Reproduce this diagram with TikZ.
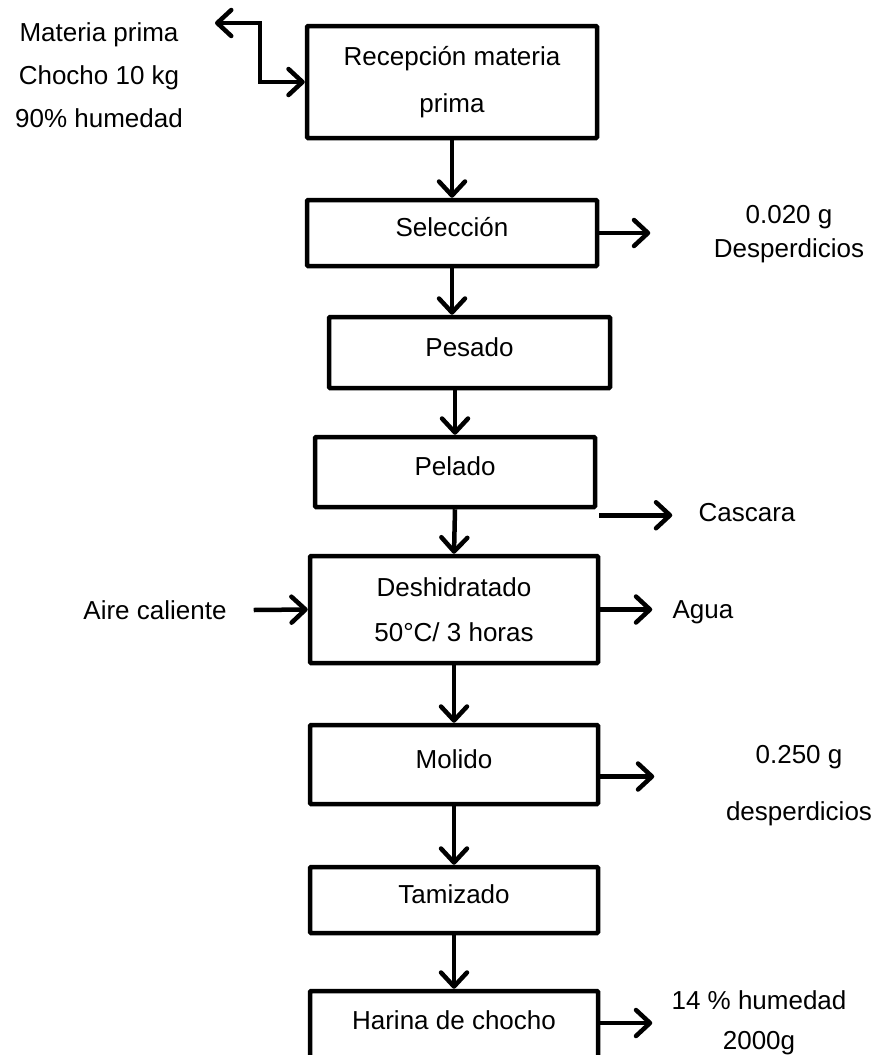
\documentclass[tikz,border=0pt]{standalone}
\usepackage{fontspec}
\setmainfont{Liberation Sans}
\usepackage{tikz}
\usetikzlibrary{arrows.meta, calc}
\definecolor{FlowInk}{RGB}{0, 0, 0}

\tikzset{
    barb/.tip={Straight Barb[length=14pt, width=26pt, round]},
    stagebox/.style={
      draw=FlowInk, line width=4.5pt, rounded corners=1pt,
      inner sep=0pt, align=center, font=\fontsize{26}{30}\selectfont
    },
    stageone/.style={stagebox, text height=19pt, text depth=12pt},
    flow/.style={draw=FlowInk, line width=4.5pt, -barb},
    note/.style={align=center, inner sep=2pt, font=\fontsize{26}{30}\selectfont}
}

\begin{document}
\begin{tikzpicture}[x=1pt, y=-1pt]
    \useasboundingbox (0,0) rectangle (880,1055);

    % process stages
    \node[stagebox, minimum width=290pt, minimum height=112pt,
      font=\fontsize{26}{47}\selectfont] (rec) at (452,82) {Recepción materia\\prima};
    \node[stageone, minimum width=290pt, minimum height=66pt] (sel) at (452,233) {Selección};
    \node[stageone, minimum width=281pt, minimum height=71pt] (pes) at (469.5,352.5) {Pesado};
    \node[stageone, minimum width=280pt, minimum height=70pt] (pel) at (455,472) {Pelado};
    \node[stagebox, minimum width=288pt, minimum height=107pt,
      font=\fontsize{26}{45}\selectfont] (des) at (454,609.5) {Deshidratado\\50°C/ 3 horas};
    \node[stageone, minimum width=288pt, minimum height=79pt] (mol) at (454,764.5) {Molido};
    \node[stageone, minimum width=288pt, minimum height=66pt] (tam) at (454,900) {Tamizado};
    \node[stageone, minimum width=288pt, minimum height=70pt] (har) at (454,1026) {Harina de chocho};

    % inputs and outputs
    \node[note, font=\fontsize{26}{43}\selectfont] (mp) at (99,75.5) {Materia prima\\Chocho 10 kg\\90\% humedad};
    \node[note, font=\fontsize{26}{34}\selectfont] (dsp1) at (789,234) {0.020 g\\Desperdicios};
    \node[note] (casc) at (747,513) {Cascara};
    \node[note] (aire) at (155,610) {Aire caliente};
    \node[note] (agua) at (703,612) {Agua};
    \node[note, font=\fontsize{26}{57}\selectfont] (dsp2) at (799,785.5) {0.250 g\\desperdicios};
    \node[note, font=\fontsize{26}{40}\selectfont] (hum) at (759,1023) {14 \% humedad\\2000g};

    % main line
    \draw[flow] (rec.south) -- (sel.north);
    \draw[flow] (sel.south) -- (sel.south |- pes.north);
    \draw[flow] (pel.north |- pes.south) -- (pel.north);
    \draw[flow] (pel.south) -- (des.north);
    \draw[flow] (des.south) -- (mol.north);
    \draw[flow] (mol.south) -- (tam.north);
    \draw[flow] (tam.south) -- (har.north);

    % side streams
    \coordinate (mpin) at (215,23);
    \draw[flow, barb-barb] (mpin) -- ++(45,0) |- (rec.west);
    \draw[flow] (sel.east) -- ++(51,0);
    \draw[flow] ($(pel.south east)+(2,6)$) -- ++(73,0);
    \draw[flow] ([xshift=25pt]aire.east) -- (des.west);
    \draw[flow] (des.east) -- ++(52,0);
    \draw[flow] ($(mol.east)+(0,12)$) -- ++(54,0);
    \draw[flow] ($(har.east)+(0,-3)$) -- ++(52,0);
\end{tikzpicture}
\end{document}
